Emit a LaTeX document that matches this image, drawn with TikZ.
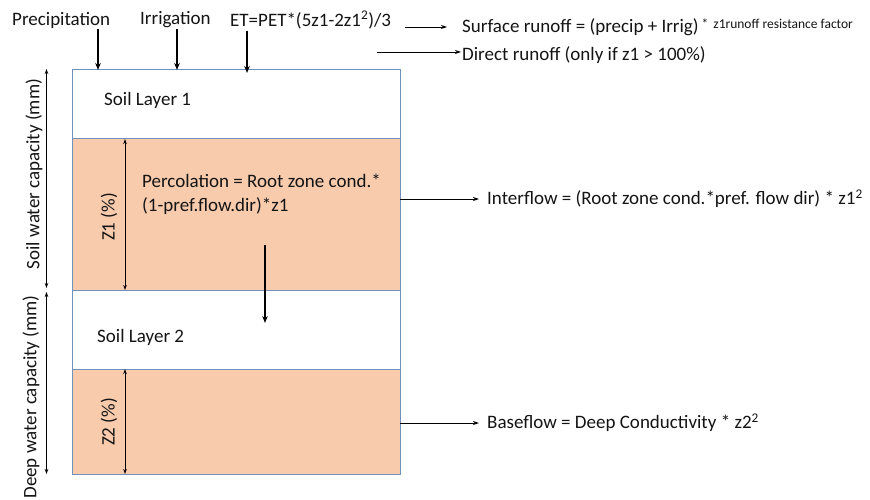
\documentclass[tikz,border=0pt]{standalone}
\usepackage{fontspec}
\setmainfont{Carlito}
\usetikzlibrary{arrows.meta}
\definecolor{boxblue}{RGB}{110,145,190}
\definecolor{soilorange}{RGB}{248,203,173}
\definecolor{txt}{RGB}{20,20,20}
\begin{document}
\begin{tikzpicture}[x=1pt,y=-1pt,
  lbl/.style={font=\fontsize{19}{24}\selectfont, inner sep=0pt, text=txt},
  thickarr/.style={line width=1.7pt, -{Stealth[length=7pt,width=5.5pt]}},
  thinarr/.style={line width=0.9pt, -{Stealth[length=6pt,width=4pt]}},
  dimarr/.style={line width=0.8pt, {Stealth[length=5pt,width=3.5pt]}-{Stealth[length=5pt,width=3.5pt]}},
  layer/.style={draw=boxblue, line width=1pt}]
\useasboundingbox (0,0) rectangle (870,500);

% layers
\fill[soilorange] (72,139) rectangle (400,290);
\fill[soilorange] (72,369) rectangle (400,474);
\draw[layer] (72,70) rectangle (400,474);
\draw[layer] (72,139) -- (400,139);
\draw[layer] (72,290) -- (400,290);
\draw[layer] (72,369) -- (400,369);

% top labels
\node[lbl, anchor=west] (precip) at (12,20) {Precipitation};
\node[lbl, anchor=west] (irrig) at (140,20) {Irrigation};
\node[lbl, anchor=west] (et) at (230,20) {ET=PET*(5z1-2z1\textsuperscript{2})/3};
\coordinate (pin) at (98,70);
\coordinate (iin) at (177,70);
\coordinate (ein) at (247,73);
\draw[thickarr] (precip.south -| pin) ++(0,1) -- (pin);
\draw[thickarr] (irrig.south -| iin) ++(0,1) -- (iin);
\draw[thickarr] (et.south -| ein) ++(0,2) -- (ein);

% runoff
\node[lbl, anchor=west] (surf) at (462,27) {Surface runoff = (precip + Irrig)\hspace{3pt}\raisebox{4pt}{\fontsize{13.5}{15}\selectfont *\hspace{5pt}z1runoff resistance factor}};
\node[lbl, anchor=west] (direct) at (462,55) {Direct runoff (only if z1 > 100\%)};
\coordinate (surfstart) at (405,27);
\coordinate (directstart) at (377,52);
\draw[thinarr] (surfstart) -- ([xshift=-15pt]surf.west |- surfstart);
\draw[thinarr] (directstart) -- ([xshift=-1pt]direct.west |- directstart);

% layer texts
\node[lbl, anchor=west] (sl1) at (104,100) {Soil Layer 1};
\node[lbl, anchor=west] (sl2) at (97,337) {Soil Layer 2};
\node[lbl, anchor=west, align=left] (perc) at (142,194) {Percolation = Root zone cond.*\\(1-pref.flow.dir)*z1};
\coordinate (percA) at (265,245);
\coordinate (percB) at (265,323);
\draw[thickarr] (percA) -- (percB);

% dimension arrows
\coordinate (swT) at (46.5,69);
\coordinate (swB) at (46.5,288);
\coordinate (dwT) at (46.5,292);
\coordinate (dwB) at (46.5,474);
\draw[dimarr] (swT) -- (swB);
\draw[dimarr] (dwT) -- (dwB);
\node[lbl, rotate=90] (swc) at (34,174) {Soil water capacity (mm)};
\node[lbl, rotate=90] (dwc) at (31,397) {Deep water capacity (mm)};

\coordinate (z1T) at (125,139);
\coordinate (z1B) at (125,290);
\coordinate (z2T) at (125,369);
\coordinate (z2B) at (125,474);
\draw[dimarr] (z1T) -- (z1B);
\draw[dimarr] (z2T) -- (z2B);
\node[lbl, rotate=90] (z1) at (109,217) {Z1 (\%)};
\node[lbl, rotate=90] (z2) at (109,422) {Z2 (\%)};

% side flows
\node[lbl, anchor=west] (inter) at (487,199) {Interflow = (Root zone cond.*pref. flow dir) * z1\textsuperscript{2}};
\node[lbl, anchor=west] (base) at (487,423) {Baseflow = Deep Conductivity * z2\textsuperscript{2}};
\coordinate (interS) at (400,199);
\coordinate (baseS) at (400,423);
\draw[thinarr] (interS) -- ([xshift=-8pt]inter.west |- interS);
\draw[thinarr] (baseS) -- ([xshift=-8pt]base.west |- baseS);
\end{tikzpicture}
\end{document}
